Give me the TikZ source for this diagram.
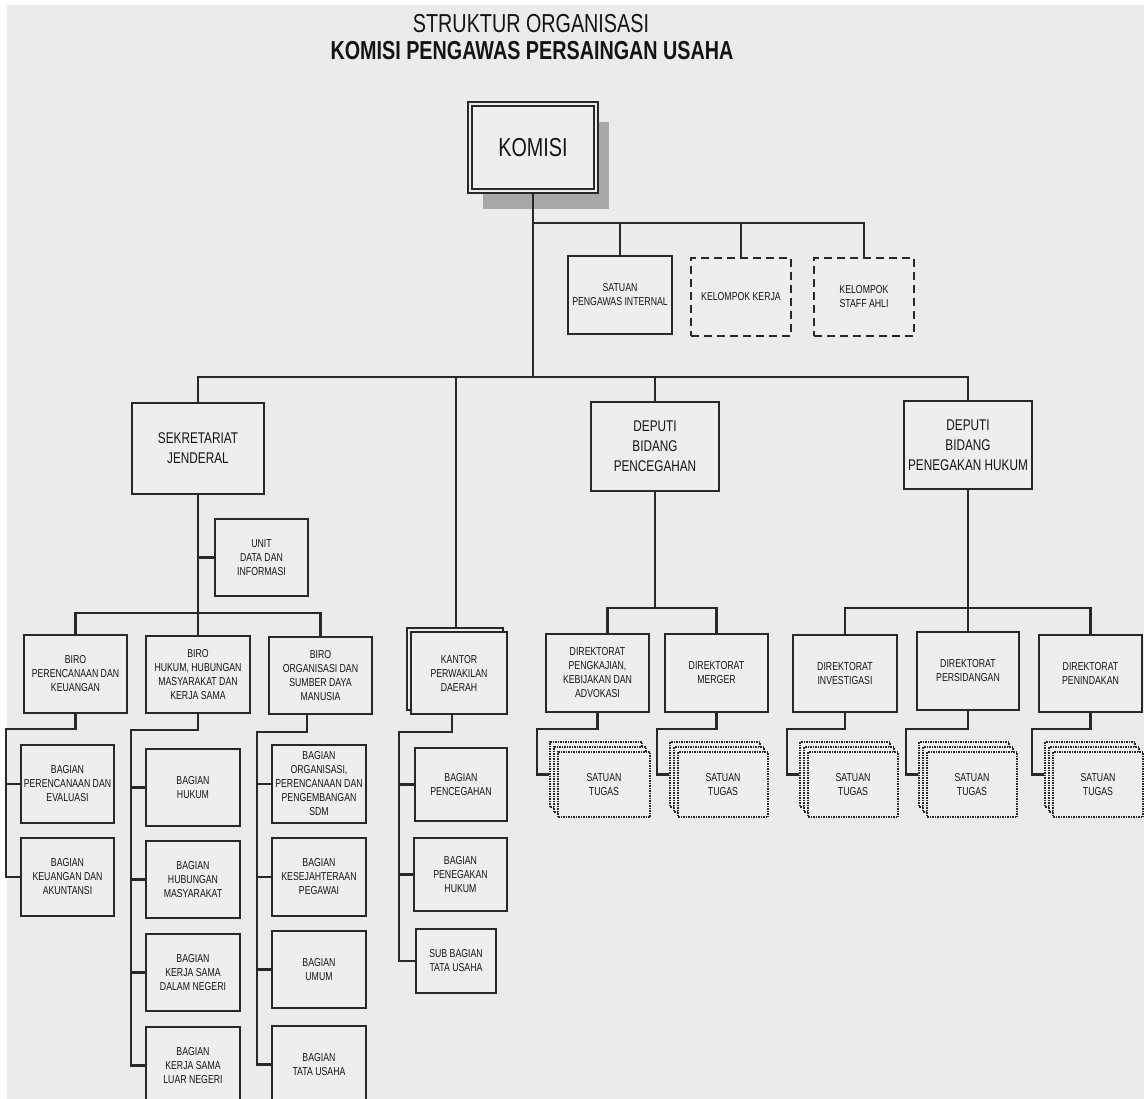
\documentclass[tikz,border=0pt]{standalone}
\usepackage{fontspec}
\setmainfont{Liberation Sans}[FakeStretch=0.76]
\usetikzlibrary{shadows}
\definecolor{LineClr}{RGB}{40,40,40}
\definecolor{BoxClr}{RGB}{238,238,238}
\definecolor{BackClr}{RGB}{235,235,235}
\definecolor{ShadeClr}{RGB}{168,168,168}
\definecolor{TextClr}{RGB}{20,20,20}

\tikzset{
  orgbox/.style 2 args={draw=LineClr,fill=BoxClr,line width=2pt,text=TextClr,
    align=center,inner sep=0pt,minimum width=#1pt,minimum height=#2pt,
    font=\fontsize{11.5}{14}\selectfont},
  bigbox/.style 2 args={orgbox={#1}{#2},font=\fontsize{15.5}{20}\selectfont},
  dashbox/.style 2 args={orgbox={#1}{#2},dash pattern=on 8pt off 5pt},
  taskbox/.style 2 args={orgbox={#1}{#2},line width=1.5pt,densely dotted,
    copy shadow={shadow xshift=-8pt,shadow yshift=10pt,draw=LineClr,fill=BoxClr,line width=1.5pt,densely dotted},
    copy shadow={shadow xshift=-4pt,shadow yshift=5pt,draw=LineClr,fill=BoxClr,line width=1.5pt,densely dotted}},
  link/.style={draw=LineClr,line width=2.1pt}
}

\begin{document}
\begin{tikzpicture}[x=1pt,y=-1pt]
\useasboundingbox (0,0) rectangle (1144,1099);
\clip (0,0) rectangle (1144,1099);
\fill[white] (0,0) rectangle (1144,1099);
\fill[BackClr] (7,5) rectangle (1144,1099);

% judul
\node[text=TextClr,font=\fontsize{26}{28}\selectfont] (judul) at (531,24) {STRUKTUR ORGANISASI};
\node[text=TextClr,font=\fontsize{26}{28}\selectfont\bfseries] (kppu) at (532,51) {KOMISI PENGAWAS PERSAINGAN USAHA};

% komisi
\node[orgbox={126}{87},font=\fontsize{26}{30}\selectfont,line width=1.6pt,double=BoxClr,double distance=2pt,
  drop shadow={shadow xshift=13pt,shadow yshift=-18pt,fill=ShadeClr,opacity=1}] (komisi) at (533,147.5) {KOMISI};

\node[orgbox={104}{78}] (spi) at (620,295) {SATUAN\\PENGAWAS INTERNAL};
\node[dashbox={100}{78}] (kkj) at (741,297) {KELOMPOK KERJA};
\node[dashbox={100}{78}] (ksa) at (864,297) {KELOMPOK\\STAFF AHLI};

\node[bigbox={132}{91}] (sekjen) at (198,448.5) {SEKRETARIAT\\JENDERAL};
\node[bigbox={128}{88}] (dpc) at (655,446.5) {DEPUTI\\BIDANG\\PENCEGAHAN};
\node[bigbox={128}{88}] (dph) at (968,445) {DEPUTI\\BIDANG\\PENEGAKAN HUKUM};

% sekretariat jenderal
\node[orgbox={93}{77}] (udi) at (261.5,557.5) {UNIT\\DATA DAN\\INFORMASI};
\node[orgbox={103}{78}] (brp) at (75.5,674) {BIRO\\PERENCANAAN DAN\\KEUANGAN};
\node[orgbox={104}{77}] (brh) at (198,674.5) {BIRO\\HUKUM, HUBUNGAN\\MASYARAKAT DAN\\KERJA SAMA};
\node[orgbox={103}{77}] (bro) at (320.5,675.5) {BIRO\\ORGANISASI DAN\\SUMBER DAYA\\MANUSIA};

\node[orgbox={93}{78}] (bpe) at (67.5,784) {BAGIAN\\PERENCANAAN DAN\\EVALUASI};
\node[orgbox={93}{78}] (bka) at (67.5,877) {BAGIAN\\KEUANGAN DAN\\AKUNTANSI};

\node[orgbox={94}{77}] (bhk) at (193,787.5) {BAGIAN\\HUKUM};
\node[orgbox={94}{77}] (bhm) at (193,879.5) {BAGIAN\\HUBUNGAN\\MASYARAKAT};
\node[orgbox={94}{77}] (bdn) at (193,972.5) {BAGIAN\\KERJA SAMA\\DALAM NEGERI};
\node[orgbox={94}{77}] (bln) at (193,1065.5) {BAGIAN\\KERJA SAMA\\LUAR NEGERI};

\node[orgbox={94}{78}] (bos) at (319,784) {BAGIAN\\ORGANISASI,\\PERENCANAAN DAN\\PENGEMBANGAN\\SDM};
\node[orgbox={94}{78}] (bkp) at (319,877) {BAGIAN\\KESEJAHTERAAN\\PEGAWAI};
\node[orgbox={94}{77}] (bum) at (319,969.5) {BAGIAN\\UMUM};
\node[orgbox={94}{77}] (btu) at (319,1064.5) {BAGIAN\\TATA USAHA};

% kantor perwakilan
\node[orgbox={96}{82},copy shadow={shadow xshift=-4pt,shadow yshift=4pt,draw=LineClr,fill=BoxClr,line width=2pt,solid}] (kpd) at (459,673) {KANTOR\\PERWAKILAN\\DAERAH};
\node[orgbox={92}{73}] (bpc) at (461,784.5) {BAGIAN\\PENCEGAHAN};
\node[orgbox={93}{73}] (bph) at (460.5,874.5) {BAGIAN\\PENEGAKAN\\HUKUM};
\node[orgbox={80}{64}] (bsb) at (456,961) {SUB BAGIAN\\TATA USAHA};

% direktorat
\node[orgbox={103}{78}] (dpk) at (597.5,673) {DIREKTORAT\\PENGKAJIAN,\\KEBIJAKAN DAN\\ADVOKASI};
\node[orgbox={103}{78}] (dmg) at (716.5,673) {DIREKTORAT\\MERGER};
\node[orgbox={104}{77}] (din) at (845,673.5) {DIREKTORAT\\INVESTIGASI};
\node[orgbox={102}{78}] (dps) at (968,671) {DIREKTORAT\\PERSIDANGAN};
\node[orgbox={103}{77}] (dpn) at (1090.5,673.5) {DIREKTORAT\\PENINDAKAN};

\node[taskbox={92}{65}] (st1) at (604,784.5) {SATUAN\\TUGAS};
\node[taskbox={90}{65}] (st2) at (723,784.5) {SATUAN\\TUGAS};
\node[taskbox={90}{65}] (st3) at (853,784.5) {SATUAN\\TUGAS};
\node[taskbox={90}{65}] (st4) at (972,784.5) {SATUAN\\TUGAS};
\node[taskbox={90}{65}] (st5) at (1098,784.5) {SATUAN\\TUGAS};

% garis komisi
\coordinate (busA) at (533,223);
\coordinate (busB) at (533,377);
\draw[link] (komisi.south) -- (busB);
\draw[link] (busA) -| (ksa.north);
\draw[link] (spi.north) -- (spi.north |- busA);
\draw[link] (kkj.north) -- (kkj.north |- busA);
\draw[link] (sekjen.north) |- (busB) -| (dph.north);
\draw[link] (dpc.north) -- (dpc.north |- busB);
\coordinate (kpdTop) at ([shift={(-3pt,4pt)}]kpd.north);
\draw[link] (kpdTop) -- (kpdTop |- busB);

% garis sekretariat
\coordinate (busC) at (198,613);
\draw[link] (sekjen.south) -- (brh.north);
\draw[link] (udi.west) -- (udi.west -| sekjen.south);
\draw[link] (brp.north) |- (busC) -| (bro.north);

\draw[link] (brp.south) -- ++(0,15) -| ([xshift=-14pt]bka.west) -- (bka.west);
\draw[link] (bpe.west) -- ++(-14,0);

\draw[link] (brh.south) -- ++(0,16) -| ([xshift=-14pt]bln.west) -- (bln.west);
\draw[link] (bhk.west) -- ++(-14,0);
\draw[link] (bhm.west) -- ++(-14,0);
\draw[link] (bdn.west) -- ++(-14,0);

\draw[link] ([xshift=-13.5pt]bro.south) -- ++(0,17) -| ([xshift=-14pt]btu.west) -- (btu.west);
\draw[link] (bos.west) -- ++(-14,0);
\draw[link] (bkp.west) -- ++(-14,0);
\draw[link] (bum.west) -- ++(-14,0);

\draw[link] ([xshift=-7pt]kpd.south) -- ++(0,17) -| ([xshift=-16pt]bsb.west) -- (bsb.west);
\draw[link] (bpc.west) -- ++(-15,0);
\draw[link] (bph.west) -- ++(-14,0);

% garis deputi
\coordinate (busD) at (655,608);
\draw[link] (dpc.south) -- (busD);
\draw[link] ([xshift=10pt]dpk.north) |- (busD) -| (dmg.north);
\coordinate (busE) at (968,608);
\draw[link] (dph.south) -- (busE);
\draw[link] (din.north) |- (busE) -| (dpn.north);
\draw[link] (dps.north) -- (dps.north |- busE);

\draw[link] (dpk.south) -- ++(0,16) -| ([shift={(-20pt,10pt)}]st1.west) -- ([shift={(-8pt,10pt)}]st1.west);
\draw[link] (dmg.south) -- ++(0,16) -| ([shift={(-20pt,10pt)}]st2.west) -- ([shift={(-8pt,10pt)}]st2.west);
\draw[link] (din.south) -- ++(0,16) -| ([shift={(-20pt,10pt)}]st3.west) -- ([shift={(-8pt,10pt)}]st3.west);
\draw[link] (dps.south) -- ++(0,18) -| ([shift={(-20pt,10pt)}]st4.west) -- ([shift={(-8pt,10pt)}]st4.west);
\draw[link] (dpn.south) -- ++(0,16) -| ([shift={(-20pt,10pt)}]st5.west) -- ([shift={(-8pt,10pt)}]st5.west);

\end{tikzpicture}
\end{document}
